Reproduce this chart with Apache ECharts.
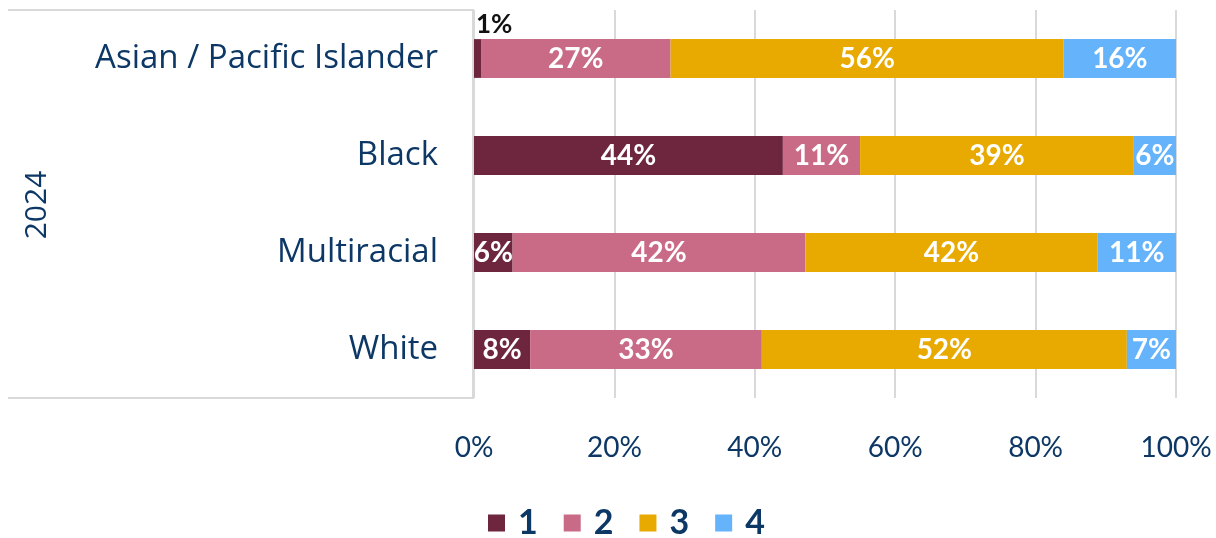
<!DOCTYPE html>
<html>
<head>
<meta charset="utf-8">
<style>
  html, body { margin: 0; padding: 0; background: #ffffff; }
  #chart { width: 1216px; height: 538px; }
</style>
<script src="https://cdn.jsdelivr.net/npm/echarts@6/dist/echarts.min.js"></script>
</head>
<body>
<div id="chart"></div>
<script>
// Race / ethnicity groups (2024)
const categories = ['Asian / Pacific Islander', 'Black', 'Multiracial', 'White'];
const groupLabel = '2024';

// Share of each response level, in percent
const level1 = [1, 44, 5.5, 8];
const level2 = [27, 11, 41.7, 33];
const level3 = [56, 39, 41.6, 52];
const level4 = [16, 6, 11.2, 7];

const seriesNames = ['1', '2', '3', '4'];
const tickLabels = ['0%', '20%', '40%', '60%', '80%', '100%'];

const colors = ['#6e263e', '#c96b87', '#e8a900', '#64b3fb'];
const navy = '#0d3866';

const chart = echarts.init(document.getElementById('chart'));

const labelStyle = {
  show: true,
  position: 'inside',
  color: '#ffffff',
  fontFamily: 'Lato',
  fontWeight: 'bold',
  fontSize: 28,
  formatter: p => Math.round(p.value) + '%'
};

function makeSeries(name, values, idx) {
  return {
    name: name,
    type: 'bar',
    stack: 'total',
    barWidth: '40%',
    itemStyle: { color: colors[idx] },
    label: labelStyle,
    emphasis: { disabled: true },
    data: values.map(v => {
      // segments too narrow for an inside label get it above the bar
      if (v < 3) {
        return {
          value: v,
          label: {
            position: [2, -1],
            align: 'left',
            verticalAlign: 'bottom',
            color: '#111111',
            fontSize: 26
          }
        };
      }
      return v;
    })
  };
}

chart.setOption({
  animation: false,
  grid: { left: 474, right: 40, top: 10, bottom: 140 },
  xAxis: {
    type: 'value',
    min: 0,
    max: 100,
    interval: 20,
    axisLine: { show: false },
    axisTick: { show: false },
    splitLine: { lineStyle: { color: '#d9d9d9', width: 2 } },
    axisLabel: {
      margin: 36,
      color: navy,
      fontFamily: 'Lato',
      fontSize: 28,
      formatter: v => tickLabels[v / 20]
    }
  },
  yAxis: {
    type: 'category',
    inverse: true,
    data: categories,
    axisLine: { show: false },
    axisTick: { show: false },
    axisLabel: {
      margin: 36,
      color: navy,
      fontFamily: 'Open Sans',
      fontSize: 33
    }
  },
  legend: {
    data: seriesNames,
    left: 483,
    top: 501,
    itemWidth: 17,
    itemHeight: 17,
    itemGap: 26,
    icon: 'rect',
    textStyle: { color: navy, fontFamily: 'Lato', fontWeight: 'bold', fontSize: 34, padding: [0, 0, 0, 8] }
  },
  graphic: [
    {
      type: 'polyline',
      shape: { points: [[8, 10], [473, 10], [473, 398], [8, 398]] },
      style: { stroke: '#d9d9d9', lineWidth: 2, fill: null },
      silent: true
    },
    {
      type: 'text',
      x: 37,
      y: 205,
      rotation: Math.PI / 2,
      style: {
        text: groupLabel,
        fill: navy,
        font: '30px "Open Sans"',
        align: 'center',
        verticalAlign: 'middle'
      },
      silent: true
    }
  ],
  series: [
    makeSeries(seriesNames[0], level1, 0),
    makeSeries(seriesNames[1], level2, 1),
    makeSeries(seriesNames[2], level3, 2),
    makeSeries(seriesNames[3], level4, 3)
  ]
});
</script>
</body>
</html>
